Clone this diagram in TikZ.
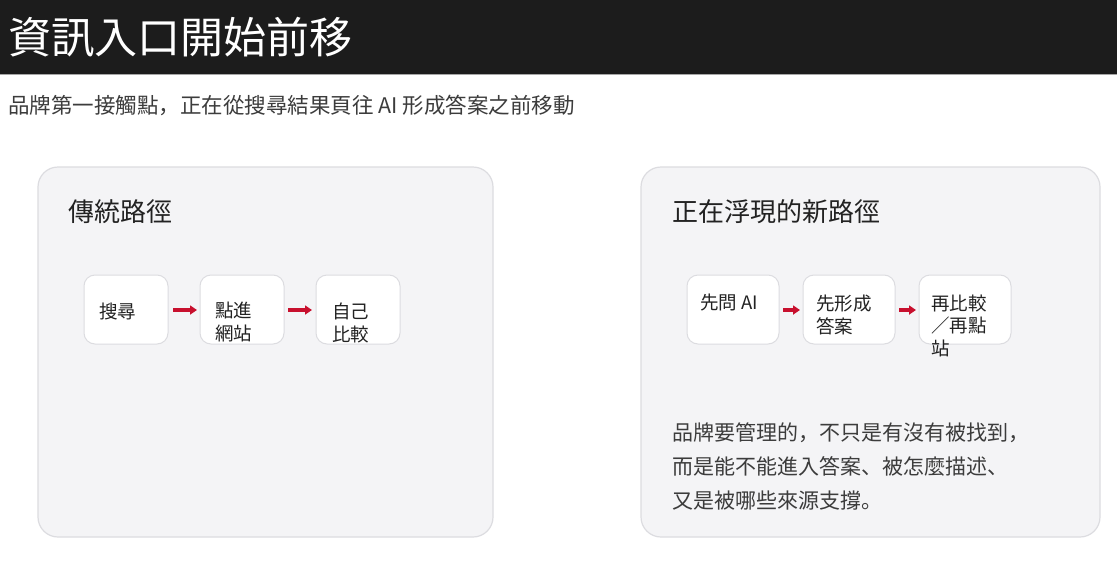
\documentclass[tikz,border=0pt]{standalone}
\usepackage{fontspec}
\newfontfamily\cjk{Noto Sans CJK JP}
\usetikzlibrary{arrows.meta}
\definecolor{barbg}{HTML}{1C1C1C}
\definecolor{panelbg}{HTML}{F4F4F6}
\definecolor{panelline}{HTML}{DCDCE0}
\definecolor{txtdark}{HTML}{222222}
\definecolor{txtmid}{HTML}{3C3C3C}
\definecolor{arrowred}{HTML}{C8102E}
\tikzset{
  txt/.style={inner sep=0pt, anchor=base west, align=left, font=\cjk},
  titletxt/.style={txt, text=white, font=\cjk\fontsize{43}{50}\selectfont},
  subtxt/.style={txt, text=txtmid, font=\cjk\fontsize{21.5}{26}\selectfont},
  headtxt/.style={txt, text=txtdark, font=\cjk\fontsize{26}{30}\selectfont},
  boxtxt/.style={txt, text=txtdark, font=\cjk\fontsize{18.5}{22.5}\selectfont},
  paratxt/.style={txt, text=txtmid, font=\cjk\fontsize{21}{34}\selectfont},
  panel/.style={draw=panelline, fill=panelbg, line width=1.2pt, rounded corners=20pt},
  stepbox/.style={draw=panelline, fill=white, line width=1pt, rounded corners=11pt},
  flow/.style={draw=arrowred, line width=3.2pt, -{Triangle[length=7pt,width=9pt]}, shorten >=0pt},
}
\begin{document}
\begin{tikzpicture}[x=1pt,y=-1pt]
\useasboundingbox (0,0) rectangle (1117,560);
\fill[white] (0,0) rectangle (1117,560);
% header
\fill[barbg] (0,0) rectangle (1117,74);
\draw[gray!70, line width=1pt] (0,74.5) -- (1117,74.5);
\node[titletxt] (title) at (8,53) {資訊入口開始前移};
\node[subtxt] (sub) at (8,113) {品牌第一接觸點，正在從搜尋結果頁往 AI 形成答案之前移動};
% panels
\draw[panel] (38,167) rectangle (493,537);
\draw[panel] (641,167) rectangle (1100,537);
\node[headtxt] (lhead) at (68,221) {傳統路徑};
\node[headtxt] (rhead) at (672,221) {正在浮現的新路徑};
% left boxes
\draw[stepbox] (84,275) rectangle (168,344);
\draw[stepbox] (200,275) rectangle (284,344);
\draw[stepbox] (316,275) rectangle (400,344);
\node[boxtxt] (l1) at (99,318) {搜尋};
\node[boxtxt] (l2) at (215,340) {點進\\網站};
\node[boxtxt] (l3) at (332,341) {自己\\比較};
\coordinate (la1) at (173,310); \coordinate (lb1) at (197,310);
\coordinate (la2) at (288,310); \coordinate (lb2) at (312,310);
\draw[flow] (la1) -- (lb1);
\draw[flow] (la2) -- (lb2);
% right boxes
\draw[stepbox] (687,275) rectangle (779,344);
\draw[stepbox] (803,275) rectangle (895,344);
\draw[stepbox] (919,275) rectangle (1011,344);
\node[boxtxt] (r1) at (700,309) {先問 AI};
\node[boxtxt] (r2) at (816,333) {先形成\\答案};
\node[boxtxt] (r3) at (931,355) {再比較\\／再點\\站};
\coordinate (ra1) at (783,310); \coordinate (rb1) at (800,310);
\coordinate (ra2) at (899,310); \coordinate (rb2) at (916,310);
\draw[flow] (ra1) -- (rb1);
\draw[flow] (ra2) -- (rb2);
% paragraph
\node[paratxt] (para) at (672,508) {品牌要管理的，不只是有沒有被找到，\\而是能不能進入答案、被怎麼描述、\\又是被哪些來源支撐。};
\end{tikzpicture}
\end{document}
